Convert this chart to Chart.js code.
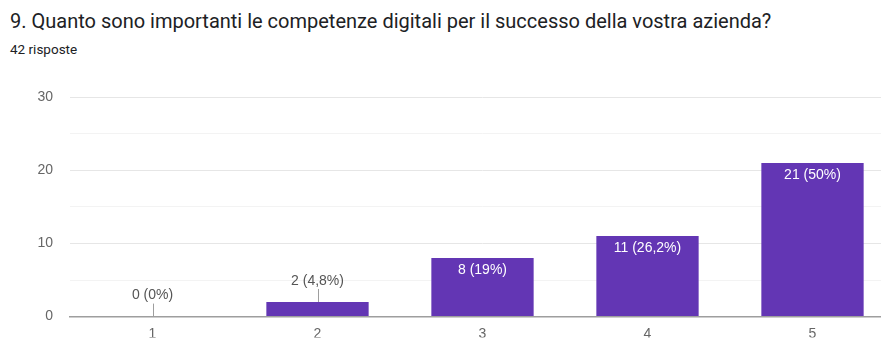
<!DOCTYPE html>
<html>
<head>
<meta charset="utf-8">
<script src="https://cdn.jsdelivr.net/npm/chart.js@4"></script>
<style>
  body { margin:0; width:881px; height:342px; overflow:hidden; background:#fff; font-family:Roboto, Arial, sans-serif; }
  #title { position:absolute; left:10px; top:9px; font-size:20px; color:#202124; white-space:nowrap; }
  #count { position:absolute; left:10px; top:41px; font-size:13.5px; color:#202124; }
  #wrap { position:absolute; left:0; top:0; width:900px; height:342px; }
</style>
</head>
<body>
<div id="title">9. Quanto sono importanti le competenze digitali per il successo della vostra azienda?</div>
<div id="count">42 risposte</div>
<div id="wrap"><canvas id="c"></canvas></div>
<script>
const categories = ['1', '2', '3', '4', '5'];
const counts = [0, 2, 8, 11, 21];
const total = 42;
const yTicks = [0, 10, 20, 30];

function pct(v){
  let s = (v / total * 100).toFixed(1);
  if (s.endsWith('.0')) s = s.slice(0, -2);
  return s.replace('.', ',') + '%';
}

const FONT = '"Liberation Sans", Arial, sans-serif';

// labels on / above the bars, with a small leader line for short bars
const barLabels = {
  id: 'barLabels',
  afterDatasetsDraw(chart){
    const ctx = chart.ctx;
    const meta = chart.getDatasetMeta(0);
    const base = chart.scales.y.getPixelForValue(0);
    ctx.save();
    ctx.font = '14px ' + FONT;
    ctx.textAlign = 'center';
    ctx.textBaseline = 'middle';
    meta.data.forEach((bar, i) => {
      const txt = counts[i] + ' (' + pct(counts[i]) + ')';
      if (base - bar.y > 25) {
        ctx.fillStyle = '#ffffff';
        ctx.fillText(txt, bar.x, bar.y + 12);
      } else {
        ctx.fillStyle = '#555555';
        ctx.fillText(txt, bar.x, bar.y - 21);
        ctx.strokeStyle = '#9e9e9e';
        ctx.lineWidth = 1;
        ctx.beginPath();
        ctx.moveTo(Math.round(bar.x) + 0.5, bar.y - 13);
        ctx.lineTo(Math.round(bar.x) + 0.5, bar.y);
        ctx.stroke();
      }
    });
    ctx.restore();
  }
};

new Chart(document.getElementById('c'), {
  type: 'bar',
  data: {
    labels: categories,
    datasets: [{ data: counts, backgroundColor: '#6336b4', barPercentage: 0.62, categoryPercentage: 1 }]
  },
  options: {
    responsive: true,
    maintainAspectRatio: false,
    animation: false,
    layout: { autoPadding: false, padding: { top: 97, right: 5, left: 0, bottom: 0 } },
    plugins: { legend: { display: false }, tooltip: { enabled: false } },
    scales: {
      x: {
        grid: { display: false, drawTicks: false },
        border: { color: '#9e9e9e', width: 1.5 },
        ticks: { color: '#666', font: { family: FONT, size: 14 }, padding: 9 },
        afterFit(s){ s.height = 21; }
      },
      y: {
        min: 0, max: 30,
        border: { display: false },
        grid: {
          drawTicks: false,
          color: c => (yTicks.includes(c.tick.value) ? '#e6e6e6' : '#f3f3f3')
        },
        ticks: {
          stepSize: 5,
          padding: 17,
          color: '#666',
          font: { family: FONT, size: 14 },
          callback: v => (yTicks.includes(v) ? v : '')
        },
        afterFit(s){ s.width = 70; }
      }
    }
  },
  plugins: [barLabels]
});
</script>
</body>
</html>
